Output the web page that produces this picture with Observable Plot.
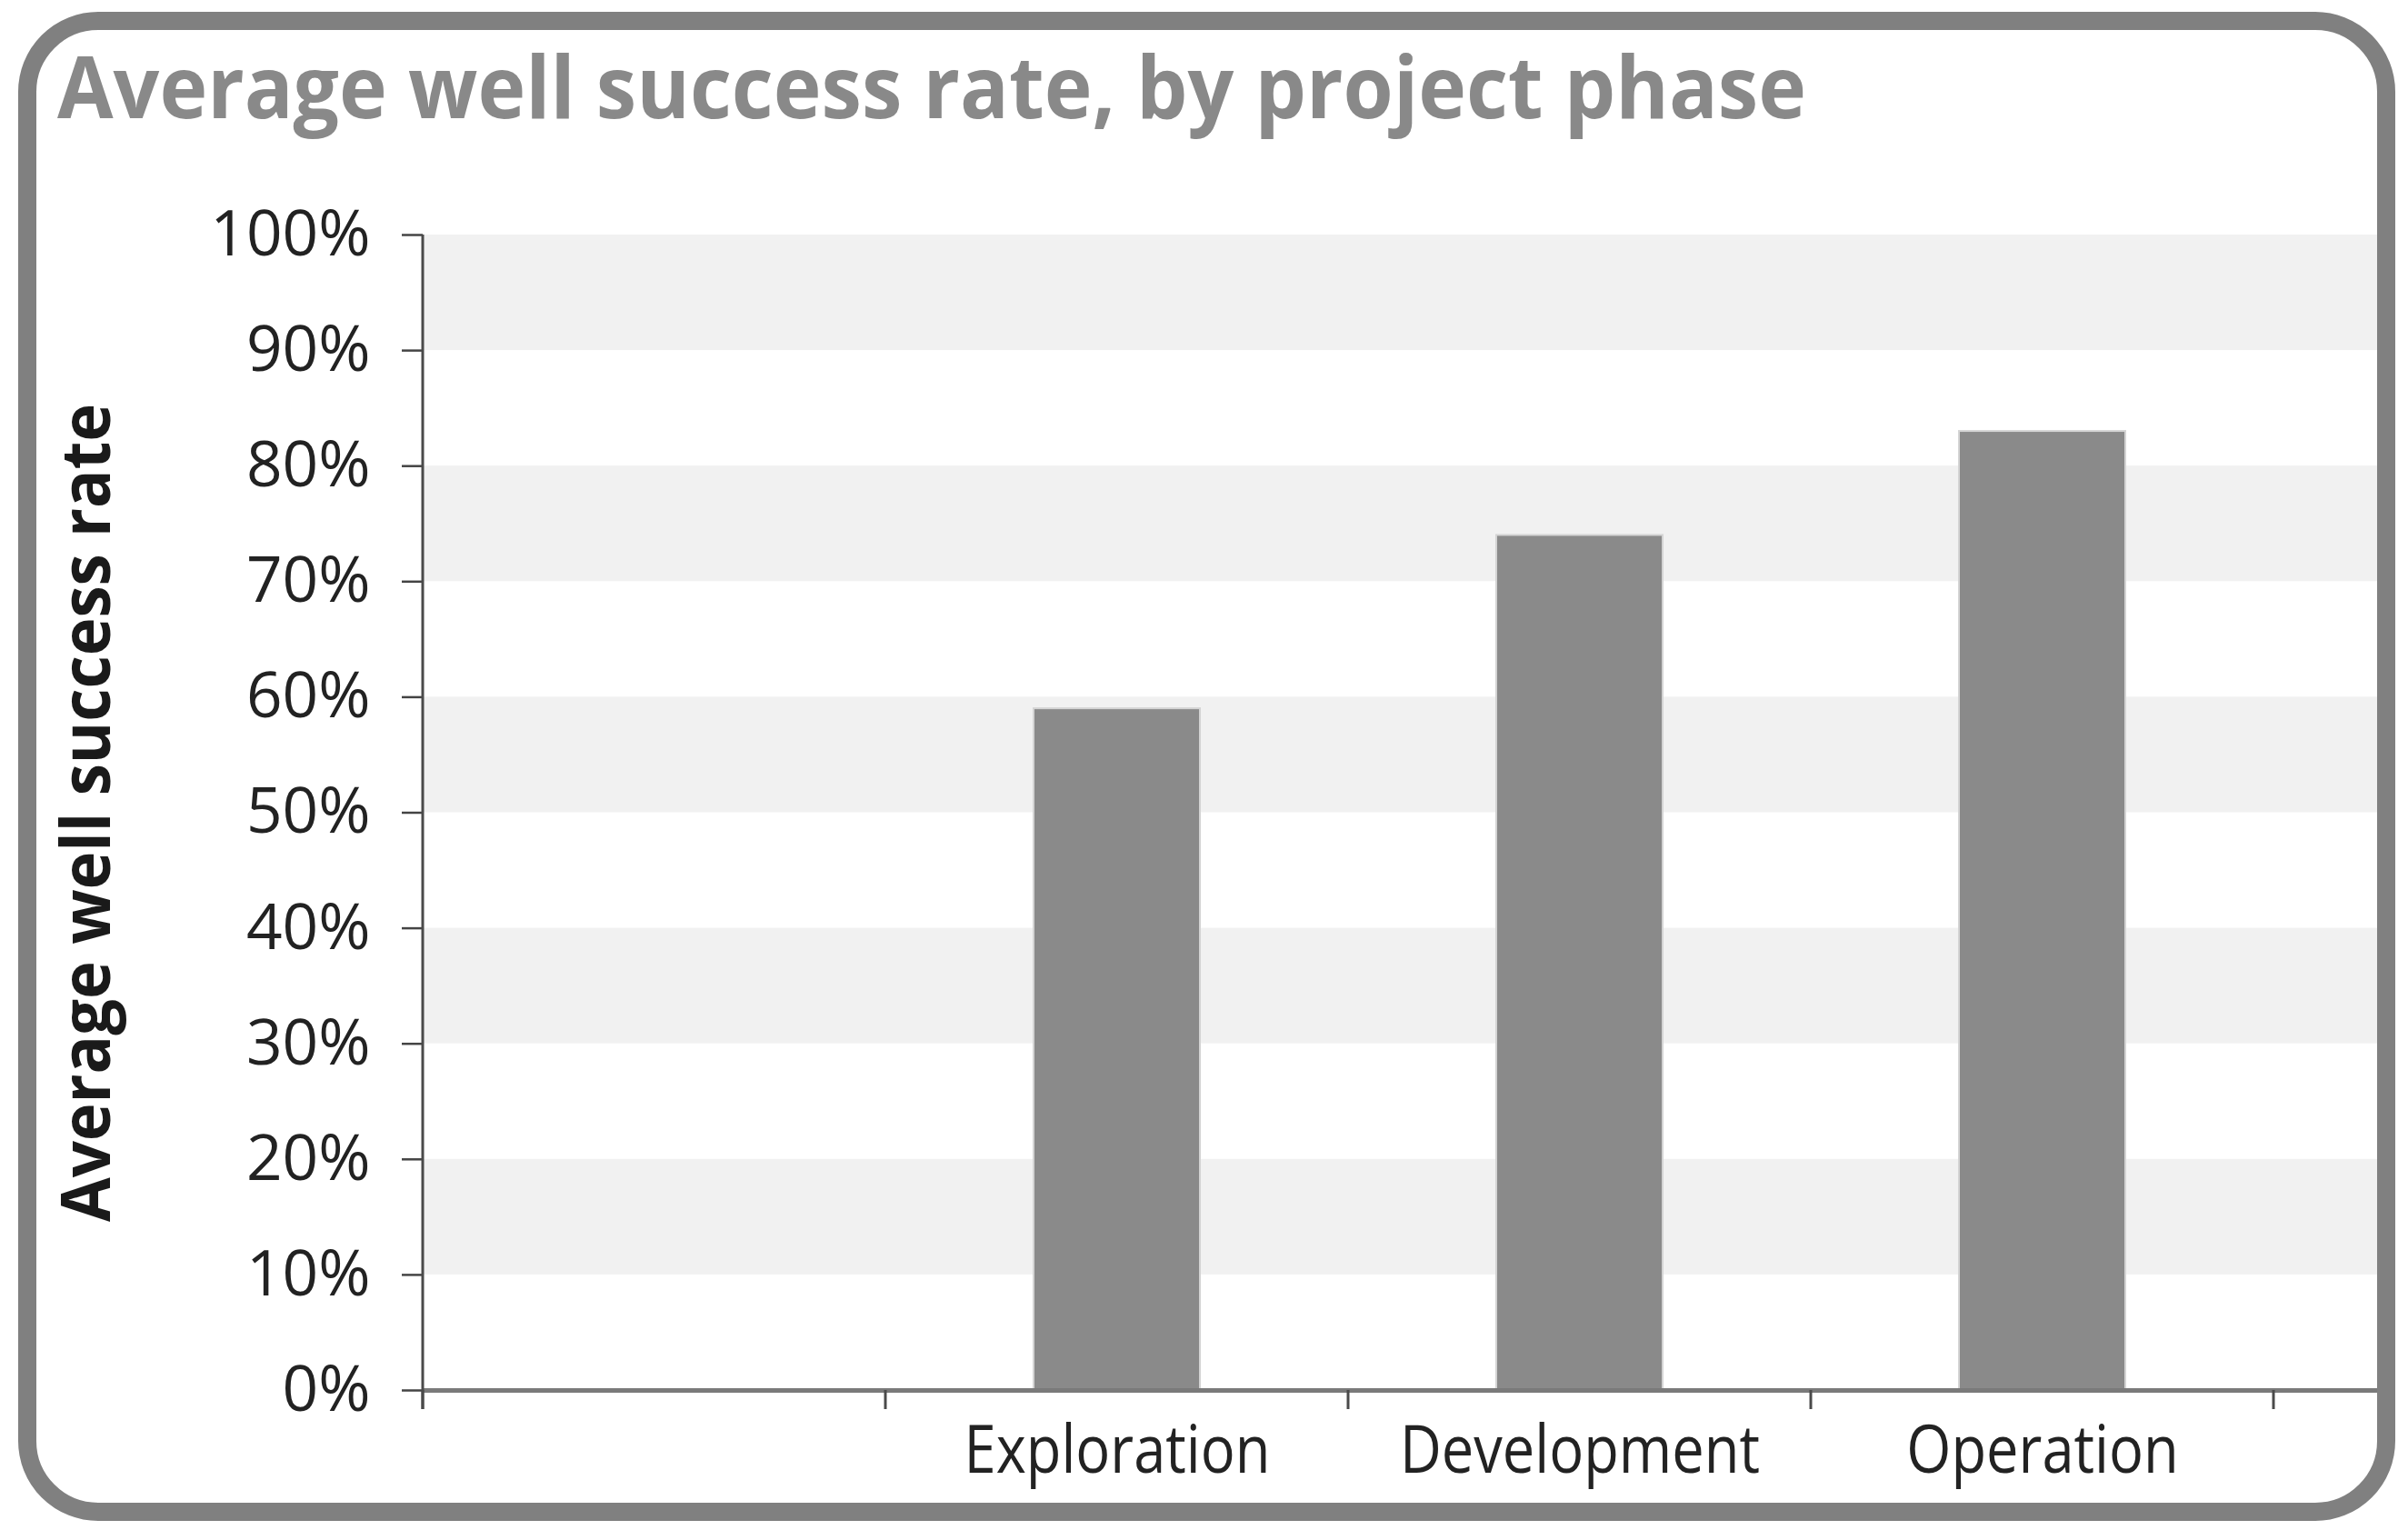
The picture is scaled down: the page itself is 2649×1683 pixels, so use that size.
<!DOCTYPE html>
<html>
<head>
<meta charset="utf-8">
<script src="https://cdn.jsdelivr.net/npm/d3@7"></script>
<script src="https://cdn.jsdelivr.net/npm/@observablehq/plot@0.6"></script>
<style>
  html, body { margin: 0; padding: 0; background: #fff; }
  #page { position: relative; width: 2649px; height: 1683px; overflow: hidden; background: #fff; font-family: "Open Sans", sans-serif; }
  #frame { position: absolute; left: 20px; top: 13px; width: 2615px; height: 1660px; box-sizing: border-box;
           border: 20px solid #808080; border-radius: 88px; z-index: 5; pointer-events: none; }
  #title { position: absolute; left: 63px; top: 46px; font-size: 95px; line-height: 1; font-weight: 700;
           color: #898989; white-space: nowrap; transform-origin: 0 0; z-index: 6; }
  #chart { position: absolute; left: 0; top: 0; }
</style>
</head>
<body>
<div id="page">
  <div id="title"><span id="titleText">Average well success rate, by project phase</span></div>
  <div id="chart"></div>
  <div id="frame"></div>
</div>
<script>
// ---- data ----
const titleText = "Average well success rate, by project phase";
const yLabel = "Average well success rate";
const phases = ["Exploration", "Development", "Operation"];
const rates = [59, 74, 83];                 // % success
const xDomain = ["", ...phases];            // leading empty slot on the axis
const yTicks = [0, 10, 20, 30, 40, 50, 60, 70, 80, 90, 100];
const stripeFrom = [10, 30, 50, 70, 90];
const stripeTo   = [20, 40, 60, 80, 100];

const data = phases.map((p, i) => ({phase: p, rate: rates[i]}));
const stripes = stripeFrom.map((f, i) => ({from: f, to: stripeTo[i]}));

// custom mark: y-axis line and x ticks at band edges, using Plot's scales
function edgeTicks(index, scales, values, dims) {
  const x = scales.x;
  const step = x.step(), bw = x.bandwidth();
  const dom = x.domain();
  const edges = dom.map(d => x(d) - (step - bw) / 2);
  edges.push(x(dom[dom.length - 1]) + bw + (step - bw) / 2);
  const y0 = dims.height - dims.marginBottom;
  const g = d3.create("svg:g");
  g.append("line")
    .attr("x1", dims.marginLeft).attr("x2", dims.marginLeft)
    .attr("y1", dims.marginTop).attr("y2", y0 + 21)
    .attr("stroke", "#4a4a4a").attr("stroke-width", 3);
  g.selectAll("line.t").data(edges).join("line").attr("class", "t")
    .attr("x1", d => d).attr("x2", d => d)
    .attr("y1", y0).attr("y2", y0 + 21)
    .attr("stroke", "#4a4a4a").attr("stroke-width", 3);
  return g.node();
}

const W = 2649, H = 1683;
const chart = Plot.plot({
  width: W,
  height: H,
  marginLeft: 465,
  marginRight: 34,
  marginTop: 258,
  marginBottom: 154,
  style: {fontFamily: "Open Sans, sans-serif", background: "transparent", overflow: "visible"},
  x: {type: "band", domain: xDomain, range: [465, 2502], paddingInner: 0.64, paddingOuter: 0.32, label: null},
  y: {domain: [0, 100], label: null},
  marks: [
    Plot.rect(stripes, {y1: "from", y2: "to", fill: "#f1f1f1"}),
    Plot.barY(data, {x: "phase", y: "rate", fill: "#8a8a8a", stroke: "#d4d4d4", strokeWidth: 2}),
    Plot.ruleY([0], {stroke: "#7a7a7a", strokeWidth: 5}),
    Plot.axisY({ticks: yTicks, tickFormat: d => d + "%", tickSize: 23, tickPadding: 35, fontSize: 70,
                stroke: "#444", strokeWidth: 2.5, fill: "#222", label: null}),
    Plot.axisX({tickSize: 0, tickPadding: 39, fontSize: 73, fill: "#222", label: null}),
    Plot.text([yLabel], {text: d => d, frameAnchor: "left", textAnchor: "middle", rotate: -90, lineAnchor: "bottom",
                dx: -345, fontSize: 75, fontWeight: "bold", fill: "#1a1a1a"}),
    edgeTicks
  ]
});
document.getElementById("chart").appendChild(chart);

// condense text to approximate the narrower original face
function condense(nodes, k) {
  nodes.forEach(t => {
    const w = t.getComputedTextLength();
    if (w > 0) { t.setAttribute("textLength", w * k); t.setAttribute("lengthAdjust", "spacingAndGlyphs"); }
  });
}
function fitTo(nodes, target) {
  nodes.forEach(t => {
    const w = t.getComputedTextLength();
    if (w > 0) { t.setAttribute("textLength", target); t.setAttribute("lengthAdjust", "spacingAndGlyphs"); }
  });
}
condense(chart.querySelectorAll('g[aria-label="y-axis tick label"] text'), 0.99);
condense(chart.querySelectorAll('g[aria-label="x-axis tick label"] text'), 0.865);
fitTo(chart.querySelectorAll('g[aria-label="text"] text'), 900);

const tspan = document.getElementById("titleText");
const tw = tspan.getBoundingClientRect().width;
document.getElementById("title").style.transform = `scaleX(${1924 / tw})`;
</script>
</body>
</html>
